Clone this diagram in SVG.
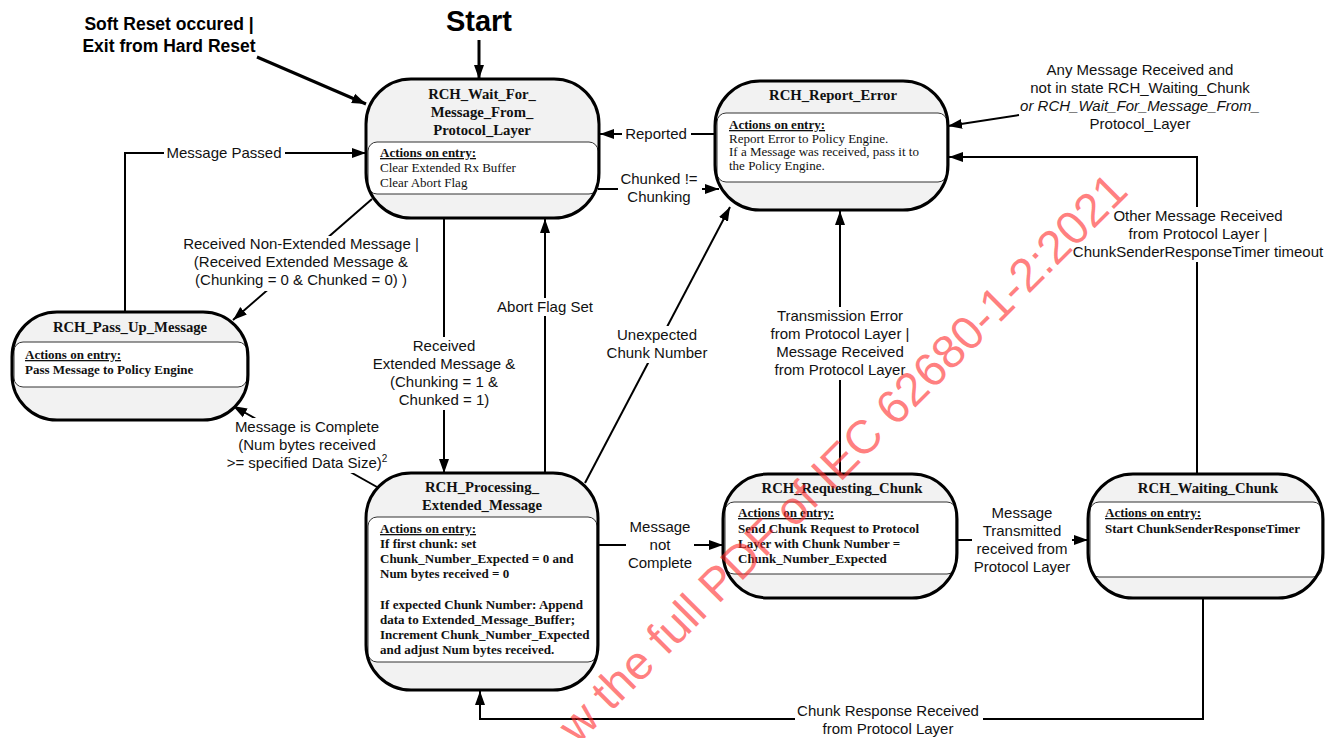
<svg xmlns="http://www.w3.org/2000/svg" width="1343" height="738" viewBox="0 0 1343 738">
  <style>
    .outer { fill: #f2f2f2; stroke: none; }
    .outline { fill: none; stroke: #000; stroke-width: 3; }
    .inner { fill: #fff; stroke: #333; stroke-width: 1; }
    .title { font-family: "Liberation Serif", serif; font-weight: bold; font-size: 14.7px; text-anchor: middle; fill: #111; }
    .act { font-family: "Liberation Serif", serif; font-size: 13px; fill: #111; }
    .actb { font-family: "Liberation Serif", serif; font-size: 13px; font-weight: bold; fill: #111; }
    .hdr { text-decoration: underline; font-weight: bold; }
    .edge { fill: none; stroke: #000; stroke-width: 2; }
    .edge3 { fill: none; stroke: #000; stroke-width: 3; }
    .lbl { font-family: "Liberation Sans", Arial, sans-serif; font-size: 15px; text-anchor: middle; fill: #111; }
    .bg { fill: #fff; }
    .big { font-family: "Liberation Sans", Arial, sans-serif; font-weight: bold; fill: #000; text-anchor: middle; }
    .wm { font-family: "Liberation Sans", Arial, sans-serif; font-size: 47px; fill: #ff2a2a; fill-opacity: 0.6; }
  </style>
  <defs>
    <marker id="arrow" markerUnits="userSpaceOnUse" markerWidth="16" markerHeight="12" refX="14" refY="6" orient="auto">
      <path d="M0,1 L14,6 L0,11 Z" fill="#000"/>
    </marker>
  </defs>
  <rect width="1343" height="738" fill="#fff"/>

  <!-- free-standing triggers -->
  <text class="big" x="479" y="31" font-size="29px">Start</text>
  <text class="big" x="169" y="30" font-size="17.5px">Soft Reset occured |</text>
  <text class="big" x="169" y="52" font-size="17.5px">Exit from Hard Reset</text>

  <!-- transitions -->
  <g id="connectors">
    <path class="edge3" d="M479,40 V79" marker-end="url(#arrow)"/>
    <path class="edge3" d="M257,57 L366,104" marker-end="url(#arrow)"/>
    <path class="edge" d="M125,312 V153 H366" marker-end="url(#arrow)"/>
    <path class="edge" d="M715,134 H600" marker-end="url(#arrow)"/>
    <path class="edge" d="M598,189 H719" marker-end="url(#arrow)"/>
    <path class="edge" d="M372,199 L233,320" marker-end="url(#arrow)"/>
    <path class="edge" d="M444,218 V473" marker-end="url(#arrow)"/>
    <path class="edge" d="M545,473 V219" marker-end="url(#arrow)"/>
    <path class="edge" d="M585,483 L730,207" marker-end="url(#arrow)"/>
    <path class="edge" d="M840,474 V211" marker-end="url(#arrow)"/>
    <path class="edge" d="M1019,115 L948,126" marker-end="url(#arrow)"/>
    <path class="edge" d="M1197,474 V157 H949" marker-end="url(#arrow)"/>
    <path class="edge" d="M598,545 H723" marker-end="url(#arrow)"/>
    <path class="edge" d="M957,540 H1088" marker-end="url(#arrow)"/>
    <path class="edge" d="M1203,598 V719 H480 V691" marker-end="url(#arrow)"/>
    <path class="edge" d="M377,487 L233,406" marker-end="url(#arrow)"/>

    <!-- transition labels -->
    <rect class="bg" x="164" y="144" width="121" height="18"/>
    <text class="lbl" x="224" y="158">Message Passed</text>

    <rect class="bg" x="622" y="126" width="69" height="17"/>
    <text class="lbl" x="656" y="139">Reported</text>

    <rect class="bg" x="618" y="171" width="84" height="36"/>
    <text class="lbl" x="659" y="184">Chunked !=</text>
    <text class="lbl" x="659" y="202">Chunking</text>

    <rect class="bg" x="180" y="236" width="242" height="55"/>
    <text class="lbl" x="301" y="249">Received Non-Extended Message |</text>
    <text class="lbl" x="301" y="267">(Received Extended Message &amp;</text>
    <text class="lbl" x="301" y="285">(Chunking = 0 &amp; Chunked = 0) )</text>

    <rect class="bg" x="370" y="337" width="148" height="73"/>
    <text class="lbl" x="444" y="351">Received</text>
    <text class="lbl" x="444" y="369">Extended Message &amp;</text>
    <text class="lbl" x="444" y="387">(Chunking = 1 &amp;</text>
    <text class="lbl" x="444" y="405">Chunked = 1)</text>

    <rect class="bg" x="494" y="298" width="102" height="18"/>
    <text class="lbl" x="545" y="312">Abort Flag Set</text>

    <rect class="bg" x="605" y="326" width="104" height="37"/>
    <text class="lbl" x="657" y="340">Unexpected</text>
    <text class="lbl" x="657" y="358">Chunk Number</text>

    <rect class="bg" x="767" y="307" width="146" height="73"/>
    <text class="lbl" x="840" y="321">Transmission Error</text>
    <text class="lbl" x="840" y="339">from Protocol Layer |</text>
    <text class="lbl" x="840" y="357">Message Received</text>
    <text class="lbl" x="840" y="375">from Protocol Layer</text>

    <text class="lbl" x="1140" y="75">Any Message Received and</text>
    <text class="lbl" x="1140" y="93">not in state RCH_Waiting_Chunk</text>
    <text class="lbl" x="1140" y="111" font-style="italic">or RCH_Wait_For_Message_From_</text>
    <text class="lbl" x="1140" y="129">Protocol_Layer</text>

    <rect class="bg" x="1071" y="207" width="256" height="55"/>
    <text class="lbl" x="1198" y="221">Other Message Received</text>
    <text class="lbl" x="1198" y="239">from Protocol Layer |</text>
    <text class="lbl" x="1198" y="257">ChunkSenderResponseTimer timeout</text>

    <rect class="bg" x="626" y="518" width="68" height="54"/>
    <text class="lbl" x="660" y="532">Message</text>
    <text class="lbl" x="660" y="550">not</text>
    <text class="lbl" x="660" y="568">Complete</text>

    <rect class="bg" x="972" y="504" width="100" height="72"/>
    <text class="lbl" x="1022" y="518">Message</text>
    <text class="lbl" x="1022" y="536">Transmitted</text>
    <text class="lbl" x="1022" y="554">received from</text>
    <text class="lbl" x="1022" y="572">Protocol Layer</text>

    <rect class="bg" x="795" y="701" width="188" height="37"/>
    <text class="lbl" x="888" y="716">Chunk Response Received</text>
    <text class="lbl" x="888" y="734">from Protocol Layer</text>

    <rect class="bg" x="225" y="418" width="165" height="55"/>
    <text class="lbl" x="307" y="432">Message is Complete</text>
    <text class="lbl" x="307" y="450">(Num bytes received</text>
    <text class="lbl" x="307" y="468">&gt;= specified Data Size)<tspan font-size="10px" dy="-6">2</tspan></text>
  </g>

  <!-- states -->
  <g id="rch-wait-for-message">
    <rect class="outer" x="366" y="79" width="233" height="139" rx="45"/>
    <rect class="inner" x="368" y="142" width="230" height="52" rx="9"/>
    <rect class="outline" x="366" y="79" width="233" height="139" rx="45"/>
    <text class="title" x="482" y="99">RCH_Wait_For_</text>
    <text class="title" x="482" y="117">Message_From_</text>
    <text class="title" x="482" y="135">Protocol_Layer</text>
    <text class="act hdr" x="380" y="157">Actions on entry:</text>
    <text class="act" x="380" y="172">Clear Extended Rx Buffer</text>
    <text class="act" x="380" y="187">Clear Abort Flag</text>
  </g>

  <g id="rch-report-error">
    <rect class="outer" x="715" y="81" width="233" height="129" rx="45"/>
    <rect class="inner" x="717" y="113" width="230" height="69" rx="9"/>
    <rect class="outline" x="715" y="81" width="233" height="129" rx="45"/>
    <text class="title" x="833" y="100">RCH_Report_Error</text>
    <text class="act hdr" x="729" y="129">Actions on entry:</text>
    <text class="act" x="729" y="142.5">Report Error to Policy Engine.</text>
    <text class="act" x="729" y="156">If a Message was received, pass it to</text>
    <text class="act" x="729" y="169.5">the Policy Engine.</text>
  </g>

  <g id="rch-pass-up-message">
    <rect class="outer" x="12" y="312" width="236" height="108" rx="45"/>
    <rect class="inner" x="14" y="342" width="233" height="45" rx="9"/>
    <rect class="outline" x="12" y="312" width="236" height="108" rx="45"/>
    <text class="title" x="130" y="332">RCH_Pass_Up_Message</text>
    <text class="actb hdr" x="25" y="359">Actions on entry:</text>
    <text class="actb" x="25" y="374">Pass Message to Policy Engine</text>
  </g>

  <g id="rch-processing-extended-message">
    <rect class="outer" x="366" y="473" width="232" height="217" rx="45"/>
    <rect class="inner" x="368" y="517" width="229" height="145" rx="9"/>
    <rect class="outline" x="366" y="473" width="232" height="217" rx="45"/>
    <text class="title" x="482" y="492">RCH_Processing_</text>
    <text class="title" x="482" y="510">Extended_Message</text>
    <text class="actb hdr" x="380" y="533">Actions on entry:</text>
    <text class="actb" x="380" y="548">If first chunk: set</text>
    <text class="actb" x="380" y="563">Chunk_Number_Expected = 0 and</text>
    <text class="actb" x="380" y="578">Num bytes received = 0</text>
    <text class="actb" x="380" y="609">If expected Chunk Number: Append</text>
    <text class="actb" x="380" y="624">data to Extended_Message_Buffer;</text>
    <text class="actb" x="380" y="639">Increment Chunk_Number_Expected</text>
    <text class="actb" x="380" y="654">and adjust Num bytes received.</text>
  </g>

  <g id="rch-requesting-chunk">
    <rect class="outer" x="723" y="474" width="234" height="124" rx="45"/>
    <rect class="inner" x="725" y="502" width="231" height="72" rx="9"/>
    <rect class="outline" x="723" y="474" width="234" height="124" rx="45"/>
    <text class="title" x="842" y="493">RCH_Requesting_Chunk</text>
    <text class="actb hdr" x="738" y="517">Actions on entry:</text>
    <text class="actb" x="738" y="533">Send Chunk Request to Protocol</text>
    <text class="actb" x="738" y="548">Layer with Chunk Number =</text>
    <text class="actb" x="738" y="563">Chunk_Number_Expected</text>
  </g>

  <g id="rch-waiting-chunk">
    <rect class="outer" x="1088" y="474" width="235" height="124" rx="45"/>
    <rect class="inner" x="1090" y="502" width="232" height="75" rx="9"/>
    <rect class="outline" x="1088" y="474" width="235" height="124" rx="45"/>
    <text class="title" x="1208" y="493">RCH_Waiting_Chunk</text>
    <text class="actb hdr" x="1105" y="517">Actions on entry:</text>
    <text class="actb" x="1105" y="533">Start ChunkSenderResponseTimer</text>
  </g>

  <!-- document stamp -->
  <text class="wm" x="1130" y="193" text-anchor="end" transform="rotate(-45 1130 193)">w the full PDF of IEC 62680-1-2:2021</text>
</svg>
